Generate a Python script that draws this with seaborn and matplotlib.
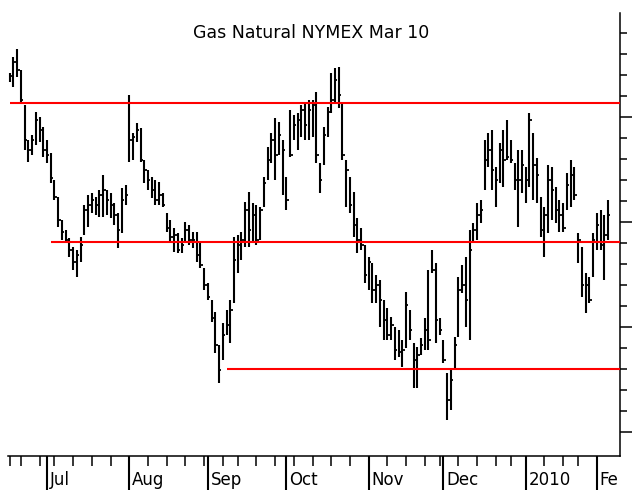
import numpy as np
import pandas as pd
import matplotlib
matplotlib.use("Agg")
import matplotlib.pyplot as plt
import matplotlib.transforms as mtrans
import seaborn as sns

# ---------------- data ----------------
title = "Gas Natural NYMEX Mar 10"
start_date = "2009-06-17"
end_date = "2010-02-04"
holidays = ["2009-07-03", "2009-09-07", "2009-11-26", "2009-12-25",
            "2010-01-01", "2010-01-18"]

high = [6.635, 6.715, 6.755, 6.65, 6.475, 6.30, 6.325, 6.44, 6.415, 6.365,
        6.30, 6.235, 6.10, 6.015, 5.90, 5.85, 5.81, 5.765, 5.75, 5.815,
        5.975, 6.025, 6.035, 6.015, 6.05, 6.125, 6.05, 6.035, 5.985, 5.935,
        6.06, 6.075, 6.525, 6.335, 6.385, 6.36, 6.20, 6.15, 6.115, 6.10,
        6.09, 6.035, 5.935, 5.90, 5.86, 5.835, 5.81, 5.89, 5.875, 5.84,
        5.84, 5.785, 5.66, 5.585, 5.50, 5.44, 5.275, 5.385, 5.45, 5.50,
        5.815, 5.825, 5.84, 5.99, 6.04, 5.985, 5.975, 5.965, 6.115, 6.265,
        6.335, 6.41, 6.39, 6.30, 6.115, 6.45, 6.425, 6.435, 6.475, 6.485,
        6.50, 6.50, 6.54, 6.185, 6.365, 6.465, 6.635, 6.66, 6.665, 6.485,
        6.20, 6.115, 6.04, 5.91, 5.86, 5.775, 5.715, 5.685, 5.625, 5.60,
        5.50, 5.46, 5.415, 5.365, 5.35, 5.30, 5.54, 5.45, 5.285, 5.265,
        5.31, 5.41, 5.65, 5.75, 5.685, 5.41, 5.30, 5.135, 5.15, 5.315,
        5.615, 5.675, 5.715, 5.85, 5.885, 5.985, 6.00, 6.30, 6.335, 6.35,
        6.165, 6.285, 6.35, 6.40, 6.30, 6.185, 6.25, 6.25, 6.165, 6.435,
        6.335, 6.21, 6.015, 5.965, 6.175, 6.165, 6.065, 6.00, 5.985, 6.135,
        6.20, 6.165, 5.835, 5.765, 5.635, 5.615, 5.835, 5.935, 5.95, 5.925,
        6.00]

low = [6.59, 6.565, 6.615, 6.485, 6.25, 6.19, 6.225, 6.275, 6.29, 6.215,
       6.185, 6.085, 6.00, 5.865, 5.80, 5.785, 5.715, 5.65, 5.615, 5.69,
       5.825, 5.865, 5.935, 5.925, 5.915, 5.915, 5.925, 5.91, 5.875, 5.76,
       5.835, 5.975, 6.19, 6.20, 6.29, 6.19, 6.085, 6.05, 6.01, 5.975,
       5.975, 5.965, 5.84, 5.79, 5.74, 5.735, 5.735, 5.785, 5.775, 5.76,
       5.69, 5.66, 5.55, 5.50, 5.39, 5.235, 5.085, 5.20, 5.325, 5.285,
       5.485, 5.635, 5.70, 5.765, 5.765, 5.79, 5.775, 5.80, 5.965, 6.10,
       6.185, 6.10, 6.225, 6.025, 5.95, 6.215, 6.30, 6.25, 6.315, 6.30,
       6.30, 6.315, 6.185, 6.035, 6.175, 6.315, 6.435, 6.485, 6.46, 6.20,
       5.965, 5.935, 5.815, 5.735, 5.75, 5.585, 5.55, 5.485, 5.485, 5.365,
       5.30, 5.30, 5.30, 5.20, 5.215, 5.165, 5.26, 5.30, 5.06, 5.06,
       5.225, 5.25, 5.25, 5.635, 5.285, 5.325, 5.185, 4.90, 4.95, 5.15,
       5.315, 5.535, 5.365, 5.30, 5.785, 5.80, 5.885, 6.05, 6.165, 6.05,
       5.965, 6.085, 6.065, 6.20, 6.185, 6.05, 5.865, 6.035, 5.985, 6.065,
       6.00, 5.985, 5.815, 5.715, 5.835, 5.90, 5.885, 5.84, 5.84, 5.95,
       5.965, 6.00, 5.685, 5.515, 5.435, 5.485, 5.615, 5.75, 5.75, 5.60,
       5.80]

close = [6.62, 6.69, 6.65, 6.50, 6.30, 6.25, 6.30, 6.40, 6.35, 6.25,
         6.225, 6.11, 6.015, 5.90, 5.84, 5.80, 5.75, 5.69, 5.725, 5.775,
         5.95, 5.975, 6.00, 5.975, 6.025, 6.05, 6.00, 5.975, 5.925, 5.85,
         6.00, 6.025, 6.30, 6.315, 6.35, 6.20, 6.15, 6.10, 6.05, 6.00,
         6.025, 5.975, 5.86, 5.815, 5.825, 5.75, 5.775, 5.85, 5.80, 5.80,
         5.725, 5.675, 5.575, 5.515, 5.41, 5.275, 5.15, 5.325, 5.375, 5.45,
         5.70, 5.775, 5.80, 5.95, 5.85, 5.925, 5.80, 5.95, 6.085, 6.20,
         6.30, 6.225, 6.325, 6.25, 6.00, 6.225, 6.375, 6.40, 6.45, 6.375,
         6.45, 6.475, 6.225, 6.10, 6.325, 6.44, 6.50, 6.60, 6.525, 6.225,
         6.15, 5.975, 5.875, 5.80, 5.775, 5.625, 5.69, 5.55, 5.575, 5.50,
         5.40, 5.325, 5.375, 5.25, 5.24, 5.25, 5.475, 5.35, 5.20, 5.225,
         5.275, 5.35, 5.30, 5.65, 5.40, 5.35, 5.20, 5.00, 5.10, 5.275,
         5.55, 5.575, 5.50, 5.75, 5.85, 5.925, 5.95, 6.20, 6.25, 6.15,
         6.10, 6.25, 6.20, 6.215, 6.20, 6.10, 6.10, 6.175, 6.10, 6.40,
         6.175, 6.125, 5.85, 5.925, 6.10, 6.05, 5.95, 5.925, 5.86, 6.075,
         6.125, 6.025, 5.80, 5.575, 5.575, 5.50, 5.80, 5.875, 5.775, 5.825,
         5.925]

level_values = [6.485, 5.79, 5.155]
level_starts = ["2009-06-17", "2009-07-02", "2009-09-09"]
month_labels = ["Jul", "Aug", "Sep", "Oct", "Nov", "Dec", "2010", "Fe"]

# ---------------- build frame ----------------
dates = pd.bdate_range(start_date, end_date, freq="C", holidays=holidays)
df = pd.DataFrame({"date": dates, "high": high, "low": low, "close": close})
df["idx"] = np.arange(len(df))

month_first = df.groupby(df["date"].dt.to_period("M"))["idx"].min().values[1:]
week_first = df.groupby(df["date"].dt.to_period("W"))["idx"].min().values

# ---------------- style ----------------
sns.set_theme(style="white")
plt.rcParams["font.family"] = ["DejaVu Sans"]

W, H = 632, 490
fig = plt.figure(figsize=(W / 100, H / 100), dpi=100)
ax_left_px, ax_right_px, ax_top_px, ax_bot_px = 0, 620, 13, 456
ax = fig.add_axes([ax_left_px / W, (H - ax_bot_px) / H,
                   (ax_right_px - ax_left_px) / W, (ax_bot_px - ax_top_px) / H])
ax.set_facecolor("white")

px_per_bar = 3.74
x0_px = 9.6
xlim = ((ax_left_px - x0_px) / px_per_bar, (ax_right_px - x0_px) / px_per_bar)
ylim = (4.72, 6.935)

# OHLC-style bars (high-low with close tick)
ax.vlines(df["idx"], df["low"], df["high"], color="black", linewidth=1.5)
ax.hlines(df["close"], df["idx"], df["idx"] + 0.65, color="black", linewidth=1.3)

# red horizontal levels
xmax = xlim[1]
for val, st in zip(level_values, level_starts):
    si = int(df.index[df["date"] == pd.Timestamp(st)][0])
    ax.hlines(val, si, xmax, color="#ff0000", linewidth=1.5, zorder=3)

# spines
for s in ["top", "left"]:
    ax.spines[s].set_visible(False)
for s in ["right", "bottom"]:
    ax.spines[s].set_color("black")
    ax.spines[s].set_linewidth(1.1)
ax.spines["bottom"].set_bounds((8 - x0_px) / px_per_bar, xmax)

# right y ticks, unlabeled
ax.yaxis.tick_right()
major_y = [6.415, 5.89, 5.365, 4.84]
minor_y = [4.84 + 0.105 * k for k in range(0, 20)]
ax.set_yticks(major_y)
ax.set_yticks(minor_y, minor=True)
ax.tick_params(axis="y", which="major", direction="out", length=8.5, width=1.1,
               color="black", labelright=False, labelleft=False, right=True, left=False)
ax.tick_params(axis="y", which="minor", direction="out", length=5, width=1.1,
               color="black", right=True, left=False)

# bottom x ticks: months long, weeks short
ax.set_xticks(month_first)
ax.set_xticks(week_first, minor=True)
ax.tick_params(axis="x", which="major", direction="out", length=25, width=1.5,
               color="black", labelbottom=False, bottom=True)
ax.tick_params(axis="x", which="minor", direction="out", length=7.5, width=1.1,
               color="black", bottom=True)
ax.grid(False)

# limits last so tick setting cannot expand them
ax.set_xlim(*xlim)
ax.set_ylim(*ylim)

trans = mtrans.blended_transform_factory(ax.transData, ax.transAxes)
for mi, lab in zip(month_first, month_labels):
    ax.text(mi + 0.8, -24 / (ax_bot_px - ax_top_px), lab, transform=trans,
            ha="left", va="center", fontsize=12, color="black", clip_on=False)

fig.text(311 / W, 1 - 33 / H, title, ha="center", va="center",
         fontsize=12.5, color="black")

fig.savefig("out.png", dpi=100, facecolor="white")
